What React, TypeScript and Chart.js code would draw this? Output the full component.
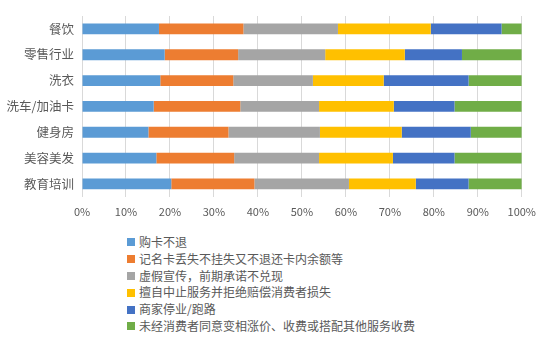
import React, { useEffect, useRef } from "react";
import { Chart, registerables } from "chart.js";

Chart.register(...registerables);

const categories = ["餐饮", "零售行业", "洗衣", "洗车/加油卡", "健身房", "美容美发", "教育培训"];
const seriesNames = [
  "购卡不退",
  "记名卡丢失不挂失又不退还卡内余额等",
  "虚假宣传，前期承诺不兑现",
  "擅自中止服务并拒绝赔偿消费者损失",
  "商家停业/跑路",
  "未经消费者同意变相涨价、收费或搭配其他服务收费",
];
const colors = ["#5B9BD5", "#ED7D31", "#A5A5A5", "#FFC000", "#4472C4", "#70AD47"];

const s1 = [17.5, 18.8, 17.8, 16.3, 15.1, 16.9, 20.3];
const s2 = [19.2, 16.7, 16.6, 19.7, 18.2, 17.7, 18.9];
const s3 = [21.5, 19.8, 18.1, 17.9, 20.8, 19.3, 21.5];
const s4 = [21.1, 18.1, 16.1, 17.0, 18.6, 16.8, 15.2];
const s5 = [16.1, 13.0, 19.3, 13.8, 15.7, 14.0, 12.0];
const s6 = [4.6, 13.6, 12.1, 15.3, 11.6, 15.3, 12.1];
const seriesValues = [s1, s2, s3, s4, s5, s6];

const FONT = '"Noto Sans CJK SC", "Noto Sans", sans-serif';
const TEXT = "#595959";

export default function App() {
  const ref = useRef<HTMLCanvasElement | null>(null);

  useEffect(() => {
    const canvas = ref.current;
    if (!canvas) return;
    const chart = new Chart(canvas, {
      type: "bar",
      data: {
        labels: categories,
        datasets: seriesNames.map((name, i) => ({
          label: name,
          data: seriesValues[i],
          backgroundColor: colors[i],
          borderWidth: 0,
          categoryPercentage: 1,
          barPercentage: 0.42,
        })),
      },
      options: {
        indexAxis: "y",
        responsive: false,
        animation: false,
        layout: { padding: { top: 16, right: 18, left: 0, bottom: 0 } },
        plugins: { legend: { display: false }, tooltip: { enabled: false } },
        scales: {
          x: {
            stacked: true,
            min: 0,
            max: 100,
            border: { display: false },
            grid: { color: "#D9D9D9", lineWidth: 1, drawTicks: false },
            ticks: {
              stepSize: 10,
              padding: 8,
              color: TEXT,
              font: { family: FONT, size: 11 },
              callback: (v: any) => v + "%",
            },
          },
          y: {
            stacked: true,
            border: { display: false },
            grid: { display: false, drawTicks: false },
            ticks: { color: TEXT, padding: 8, font: { family: FONT, size: 12.5 } },
            afterFit: (scale: any) => {
              scale.width = 82;
            },
          },
        },
      },
    });
    return () => chart.destroy();
  }, []);

  return (
    <div style={{ position: "absolute", left: 0, top: 0, width: 544, height: 354, background: "#fff", fontFamily: FONT }}>
      <canvas ref={ref} width={544} height={226} style={{ display: "block" }} />
      <div style={{ position: "absolute", left: 127, top: 234 }}>
        {seriesNames.map((name, i) => (
          <div key={name} style={{ display: "flex", alignItems: "center", height: 16.8, whiteSpace: "nowrap" }}>
            <span style={{ display: "inline-block", width: 8, height: 8, background: colors[i], marginRight: 4 }} />
            <span style={{ fontSize: 12, color: TEXT, lineHeight: "16.8px" }}>{name}</span>
          </div>
        ))}
      </div>
    </div>
  );
}
